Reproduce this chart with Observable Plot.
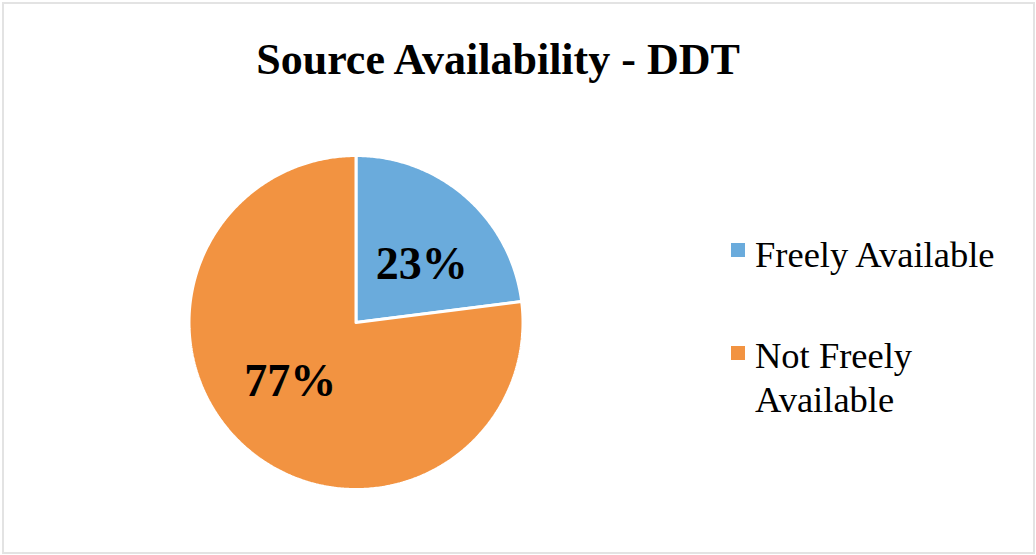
<!DOCTYPE html>
<html>
<head>
<meta charset="utf-8">
<script src="https://cdn.jsdelivr.net/npm/d3@7"></script>
<script src="https://cdn.jsdelivr.net/npm/@observablehq/plot@0.6"></script>
<style>
  html, body { margin: 0; padding: 0; background: #fff; }
  #frame { position: absolute; left: 2px; top: 2px; width: 1029px; height: 548px; border: 2px solid #e3e3e3; }
  #title { position: absolute; left: 0; top: 38px; width: 996px; text-align: center;
           font-family: "Liberation Serif", "Times New Roman", serif; font-weight: bold; font-size: 44px; line-height: 44px; color: #000; }
  #chart { position: absolute; left: 0; top: 0; }
  .leg { position: absolute; left: 755px; font-family: "Liberation Serif", "Times New Roman", serif; font-size: 36.5px; line-height: 44px; color: #000; }
  .sw { position: absolute; left: 731px; width: 14px; height: 14px; }
</style>
</head>
<body>
<div id="frame"></div>
<div id="chart"></div>
<div id="title">Source Availability - DDT</div>
<div id="legend"></div>
<script>
const categories = ["Freely Available", "Not Freely Available"];
const legendLabels = ["Freely Available", "Not Freely<br>Available"];
const values = [23, 77];
const colors = ["#6aabdc", "#f29341"];

const W = 1036, H = 555, cx = 355.5, cy = 322, R = 167;
const total = d3.sum(values);
const labelRadius = 0.527, labelShift = 7 * Math.PI / 180;

// build slice outlines in unit-circle space (angle clockwise from 12 o'clock)
const slicePts = [];
const labels = [];
let acc = 0;
values.forEach((v, i) => {
  const a0 = acc / total * 2 * Math.PI;
  acc += v;
  const a1 = acc / total * 2 * Math.PI;
  slicePts.push({key: categories[i], x: 0, y: 0});
  const n = Math.max(2, Math.ceil((a1 - a0) / 0.01));
  for (let k = 0; k <= n; k++) {
    const a = a0 + (a1 - a0) * k / n;
    slicePts.push({key: categories[i], x: Math.sin(a), y: Math.cos(a)});
  }
  slicePts.push({key: categories[i], x: 0, y: 0});
  const am = (a0 + a1) / 2 + labelShift;
  labels.push({key: categories[i], x: labelRadius * Math.sin(am), y: labelRadius * Math.cos(am), text: Math.round(v / total * 100) + "%"});
});

const plot = Plot.plot({
  width: W, height: H,
  margin: 0,
  x: {domain: [-cx / R, (W - cx) / R], axis: null},
  y: {domain: [-(H - cy) / R, cy / R], axis: null},
  color: {domain: categories, range: colors},
  style: {background: "transparent", overflow: "visible"},
  marks: [
    Plot.line(slicePts, {x: "x", y: "y", z: "key", fill: "key", stroke: "white", strokeWidth: 3, strokeLinejoin: "miter", curve: "linear"}),
    Plot.text(labels, {x: "x", y: "y", text: "text", fontSize: 46, fontWeight: "bold", fontFamily: "Liberation Serif, Times New Roman, serif", fill: "black", textAnchor: "middle", lineAnchor: "middle"})
  ]
});
document.getElementById("chart").appendChild(plot);

// legend
const legend = document.getElementById("legend");
const legTops = [233, 334];
const swTops = [243, 346];
categories.forEach((c, i) => {
  const sw = document.createElement("div");
  sw.className = "sw";
  sw.style.top = swTops[i] + "px";
  sw.style.background = colors[i];
  legend.appendChild(sw);
  const t = document.createElement("div");
  t.className = "leg";
  t.style.top = legTops[i] + "px";
  t.innerHTML = legendLabels[i];
  legend.appendChild(t);
});
</script>
</body>
</html>
